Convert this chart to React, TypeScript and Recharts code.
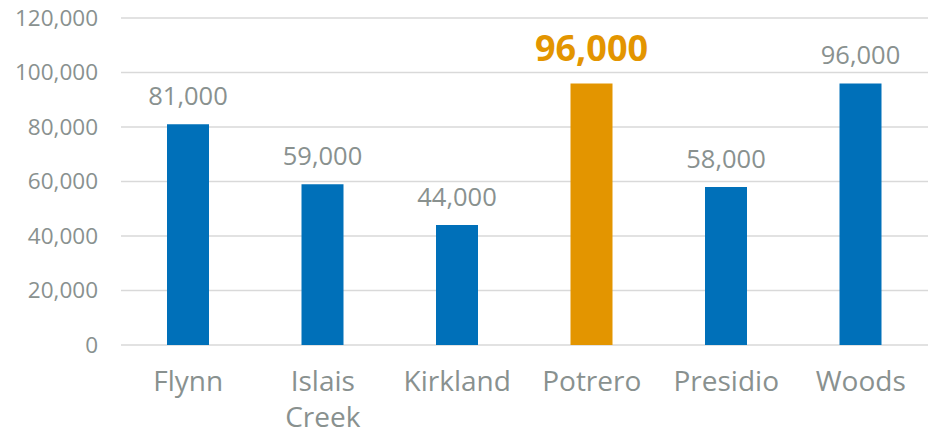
import React from "react";
import { BarChart, Bar, XAxis, YAxis, CartesianGrid, Cell, LabelList } from "recharts";

const categories = ["Flynn", "Islais Creek", "Kirkland", "Potrero", "Presidio", "Woods"];
const values = [81000, 59000, 44000, 96000, 58000, 96000];
const highlighted = ["Potrero"];
const yTicks = [0, 20000, 40000, 60000, 80000, 100000, 120000];

const BLUE = "#0070B9";
const ORANGE = "#E39500";
const GRAY = "#89918F";
const FONT = "'Open Sans', 'Noto Sans', sans-serif";

const data = categories.map((name, i) => ({ name, value: values[i] }));

const fmt = (v: number) => v.toLocaleString("en-US");

const XTick = (props: any) => {
  const { x, y, payload } = props;
  const words = String(payload.value).split(" ");
  return (
    <g transform={`translate(${x},${y})`}>
      {words.map((w: string, i: number) => (
        <text key={i} x={0} y={38 + i * 36} textAnchor="middle" fill={GRAY} fontSize={28} fontFamily={FONT}>
          {w}
        </text>
      ))}
    </g>
  );
};

const ValueLabel = (props: any) => {
  const { x, y, width, value, index } = props;
  const isHi = highlighted.includes(categories[index]);
  return (
    <text
      x={x + width / 2}
      y={y - (isHi ? 22 : 19)}
      textAnchor="middle"
      fill={isHi ? ORANGE : GRAY}
      fontSize={isHi ? 36 : 25.5}
      fontWeight={isHi ? 700 : 400}
      fontFamily={FONT}
    >
      {fmt(value)}
    </text>
  );
};

export default function App() {
  return (
    <div style={{ position: "absolute", left: 0, top: 0, width: 932, height: 430, background: "#fff" }}>
      <BarChart width={932} height={430} data={data} margin={{ top: 18, right: 4, bottom: 0, left: 0 }}>
        <CartesianGrid vertical={false} stroke="#D9D9D9" strokeWidth={1.5} />
        <XAxis
          dataKey="name"
          axisLine={false}
          tickLine={false}
          height={85}
          interval={0}
          tick={<XTick />}
        />
        <YAxis
          width={121}
          domain={[0, 120000]}
          ticks={yTicks}
          axisLine={false}
          tickLine={false}
          tickSize={0}
          tickMargin={23}
          tickFormatter={fmt}
          tick={{ fill: GRAY, fontSize: 22.5, fontFamily: FONT }}
        />
        <Bar dataKey="value" barSize={42} isAnimationActive={false}>
          {data.map((d, i) => (
            <Cell key={i} fill={highlighted.includes(d.name) ? ORANGE : BLUE} />
          ))}
          <LabelList dataKey="value" content={<ValueLabel />} />
        </Bar>
      </BarChart>
    </div>
  );
}
